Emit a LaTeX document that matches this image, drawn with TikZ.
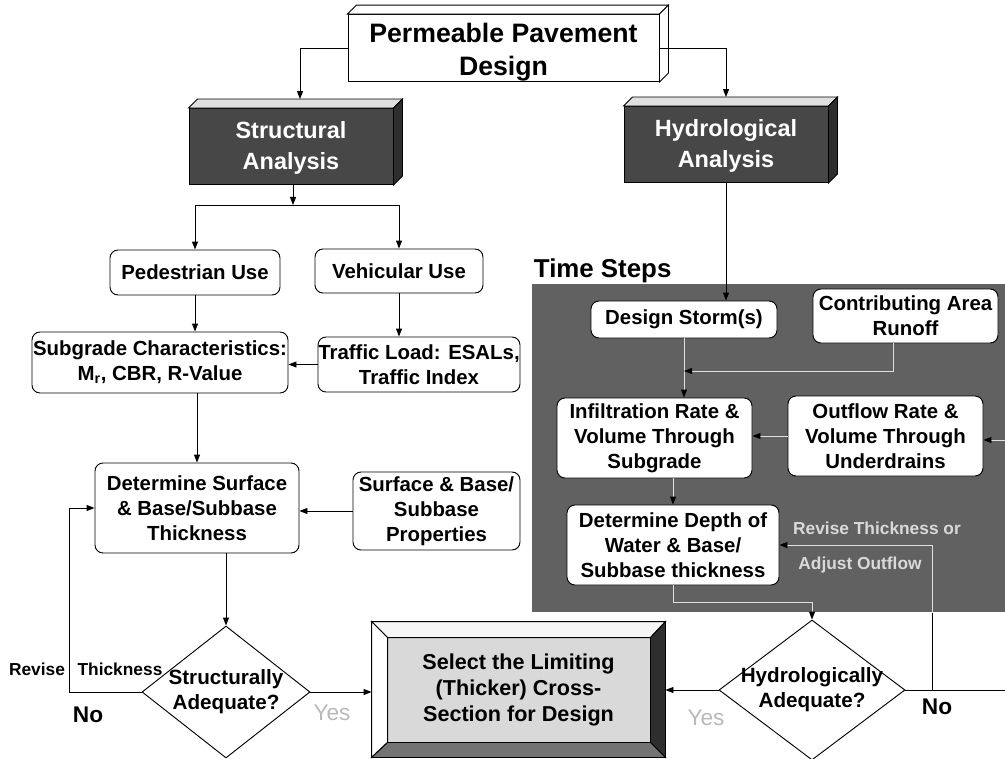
\documentclass[tikz,border=0pt]{standalone}
\usepackage{fontspec}
\setmainfont{Liberation Sans}
\usetikzlibrary{arrows.meta,shapes.geometric,positioning}

% top and side faces of a raised box
\newcommand{\slabfaces}[3]{%
  \filldraw[fill=#2] (#1.north west) -- ++(9,-9) -- ([shift={(9,-9)}]#1.north east) -- (#1.north east) -- cycle;
  \filldraw[fill=#3] (#1.north east) -- ([shift={(9,-9)}]#1.north east) -- ([shift={(9,-9)}]#1.south east) -- (#1.south east) -- cycle;
}

\begin{document}
\begin{tikzpicture}[x=0.75pt,y=-0.75pt,line width=0.7pt,
  arr/.style={-{Triangle[length=6pt,width=4.5pt]}},
  flow/.style={draw=gray!25,-{Triangle[length=6pt,width=4.5pt,color=black]}},
  stage/.style={draw,rounded corners=6pt,fill=white,align=center,inner sep=0pt,
    font=\fontsize{15.3}{18.75}\selectfont\bfseries},
  slab/.style={draw,fill=black!72,text=white,align=center,inner sep=0pt,
    minimum width=153pt,minimum height=57pt,font=\fontsize{17.6}{23}\selectfont\bfseries},
  decision/.style={draw,diamond,fill=white,inner sep=0pt},
  query/.style={align=center,font=\fontsize{15.5}{18.75}\selectfont\bfseries},
  plate/.style={draw,fill=gray!30,align=center,inner sep=0pt,
    font=\fontsize{16.2}{19.5}\selectfont\bfseries},
  tag/.style={font=\fontsize{13}{15}\selectfont\bfseries},
  verdict/.style={font=\fontsize{17}{20}\selectfont\bfseries},
  assent/.style={text=gray!55,font=\fontsize{17}{20}\selectfont},
]
\useasboundingbox (0,0) rectangle (1005,759);

% time step zone
\node[fill=black!62,inner sep=0pt,minimum width=354.75pt,minimum height=246pt,anchor=north west] (zone) at (532,284) {};
\node[anchor=west,font=\fontsize{19.4}{22}\selectfont\bfseries] (steps) at (529,271) {Time Steps};

% top level
\node[draw,fill=white,minimum width=233.25pt,minimum height=46.5pt,align=center,inner sep=0pt,
  font=\fontsize{20}{25}\selectfont\bfseries] (title) at (503.5,48) {\rule{0pt}{21pt}Permeable Pavement\\Design};
\slabfaces{title}{white}{white}
\node[slab] (struct) at (291,146.5) {\rule{0pt}{15pt}Structural\\Analysis};
\slabfaces{struct}{gray!25}{black!82}
\node[slab] (hydro) at (726,144.5) {\rule{0pt}{15pt}Hydrological\\Analysis};
\slabfaces{hydro}{gray!25}{black!82}

% structural side
\node[stage,minimum width=127.5pt,minimum height=33.75pt] (ped) at (195,272.5) {Pedestrian Use};
\node[stage,minimum width=126pt,minimum height=33pt] (veh) at (399,271) {Vehicular Use};
\node[stage,minimum width=192pt,minimum height=45.75pt] (subgrade) at (160,362.5) {Subgrade Characteristics:\\M\textsubscript{r}, CBR, R-Value};
\node[stage,minimum width=151.5pt,minimum height=41.25pt] (traffic) at (419,364.5) {Traffic Load: ESALs,\\Traffic Index};
\node[stage,minimum width=153pt,minimum height=67.5pt] (surface) at (197,508) {Determine Surface\\\& Base/Subbase\\Thickness};
\node[stage,minimum width=125.25pt,minimum height=58.5pt] (props) at (436.5,511) {Surface \& Base/\\Subbase\\Properties};
\node[decision,minimum width=126pt,minimum height=99pt,
  label={[query]center:Structurally\\Adequate?}] (sdia) at (226,692) {};

% hydrological side
\node[stage,minimum width=139.5pt,minimum height=27.75pt] (storm) at (684,319.5) {Design Storm(s)};
\node[stage,minimum width=138.75pt,minimum height=40.5pt] (runoff) at (905.5,316) {Contributing Area\\Runoff};
\node[stage,minimum width=146.25pt,minimum height=60pt] (infil) at (654.5,438) {Infiltration Rate \&\\Volume Through\\Subgrade};
\node[stage,minimum width=146.25pt,minimum height=60pt] (outflow) at (885.5,436) {Outflow Rate \&\\Volume Through\\Underdrains};
\node[stage,minimum width=159pt,minimum height=60pt] (depth) at (673,545) {Determine Depth of\\Water \& Base/\\Subbase thickness};
\node[decision,minimum width=139.5pt,minimum height=105pt,
  label={[query]center:Hydrologically\\Adequate?}] (hdia) at (812,690) {};

% final choice
\node[plate,minimum width=219.75pt,minimum height=101.25pt] (select) at (518.5,689.5) {Select the Limiting\\(Thicker) Cross-\\Section for Design};
\filldraw[fill=gray!8] (select.north west) -- (select.north east) -- ([shift={(-15,16)}]select.north east) -- ([shift={(16,16)}]select.north west) -- cycle;
\filldraw[fill=white] (select.north west) -- ([shift={(16,16)}]select.north west) -- ([shift={(16,-15)}]select.south west) -- (select.south west) -- cycle;
\filldraw[fill=black!82] (select.north east) -- (select.south east) -- ([shift={(-15,-15)}]select.south east) -- ([shift={(-15,16)}]select.north east) -- cycle;
\filldraw[fill=black!55] (select.south west) -- (select.south east) -- ([shift={(-15,-15)}]select.south east) -- ([shift={(16,-15)}]select.south west) -- cycle;

\coordinate (fork) at (293,205);
\coordinate (merge) at (684,371);
\coordinate (inlet) at (1005,440);
\coordinate (hno) at (932,690);
\coordinate (outlet) at (1005,690);

% connectors
\draw[arr] (title.west) -| ([shift={(9,-9)}]struct.north);
\draw[arr] (title.east) -| ([yshift=6.75pt]hydro.north);
\draw[arr] (struct.south -| fork) -- (fork);
\draw[arr] (fork) -| (ped.north);
\draw[arr] (fork) -| (veh.north);
\draw[arr] (ped.south) -- (ped.south |- subgrade.north);
\draw[arr] (veh.south) -- (veh.south |- traffic.north);
\draw[arr] (traffic.west) -- (traffic.west -| subgrade.east);
\draw[arr] (surface.north |- subgrade.south) -- (surface.north);
\draw[arr] (props.west) -- (props.west -| surface.east);
\draw[arr] (sdia.north |- surface.south) -- (sdia.north);
\draw[arr] (sdia.west) -- ++(-72,0) |- (surface.west);
\draw[arr] (sdia.east) -- (sdia.east -| select.west);
\draw[arr] (hydro.south) -- (hydro.south |- storm.north);
\draw[flow] (storm.south) -- (storm.south |- infil.north);
\draw[flow] ([xshift=-9pt]runoff.south) |- (merge);
\draw[flow] (outflow.west) -- (outflow.west -| infil.east);
\draw[flow] (inlet) -- (inlet -| outflow.east);
\draw[flow] (infil.south -| depth.north) -- (depth.north);
\draw[flow] (depth.south) -- ++(0,17) -| (hdia.north);
\draw[arr] (hdia.west) -- (hdia.west -| select.east);
\draw (hdia.east) -- (outlet);
\draw (hno) -- (hno |- zone.south);
\draw[flow] (hno |- zone.south) |- (depth.east);

% labels
\node[tag] (revS) at (37,669) {Revise};
\node[tag] (thickS) at (120,669) {Thickness};
\node[verdict] (noS) at (88,715) {No};
\node[assent] (yesS) at (332,713) {Yes};
\node[assent] (yesH) at (706,718) {Yes};
\node[verdict] (noH) at (937,707) {No};
\node[tag,text=gray!30] (revH) at (877,528) {Revise Thickness or};
\node[tag,text=gray!30] (adjH) at (860,565) {Adjust Outflow};
\end{tikzpicture}
\end{document}
